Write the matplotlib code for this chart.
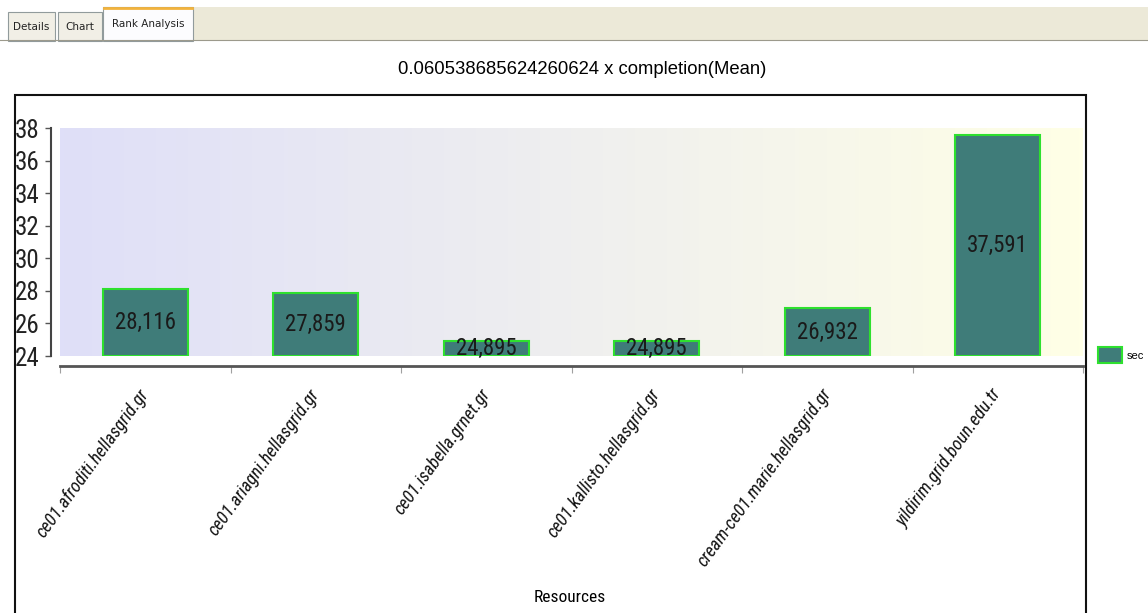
import numpy as np
import matplotlib
matplotlib.use("Agg")
import matplotlib.pyplot as plt
from matplotlib.colors import LinearSegmentedColormap
from matplotlib.patches import Rectangle
from matplotlib.lines import Line2D

# data
resources = [
    "ce01.afroditi.hellasgrid.gr",
    "ce01.ariagni.hellasgrid.gr",
    "ce01.isabella.grnet.gr",
    "ce01.kallisto.hellasgrid.gr",
    "cream-ce01.marie.hellasgrid.gr",
    "yildirim.grid.boun.edu.tr",
]
completion_sec = [28.116, 27.859, 24.895, 24.895, 26.932, 37.591]
y_ticks = [24, 26, 28, 30, 32, 34, 36, 38]
tabs = ["Details", "Chart", "Rank Analysis"]

NARROW = ["Roboto Condensed", "Liberation Sans", "DejaVu Sans"]
REGULAR = ["Liberation Sans", "DejaVu Sans"]

W, H = 1148, 613
fig = plt.figure(figsize=(W / 100, H / 100), dpi=100)
fig.patch.set_facecolor("white")


def fx(px):
    return px / W


def fy(py):
    return 1 - py / H


# tab strip at the top
fig.patches.append(Rectangle((fx(193), fy(40)), fx(W - 193), 33 / H, transform=fig.transFigure,
                             facecolor="#ECE9D8", edgecolor="none", zorder=0))
fig.add_artist(Line2D([fx(0), fx(W)], [fy(40), fy(40)], color="#9C9A8C", lw=0.8))
tab_boxes = [(8, 55, 12), (58, 102, 12), (103, 193, 7)]
for label, (x0, x1, top) in zip(tabs, tab_boxes):
    active = label == "Rank Analysis"
    fig.patches.append(Rectangle((fx(x0), fy(41)), fx(x1 - x0), (41 - top) / H, transform=fig.transFigure,
                                 facecolor="#FCFCFE" if active else "#F1EFE6", edgecolor="#919B9C", lw=0.8))
    if active:
        fig.add_artist(Line2D([fx(x0 + 1), fx(x1 - 1)], [fy(top + 1), fy(top + 1)], color="#F2B33C", lw=2))
    fig.text(fx((x0 + x1) / 2), fy((top + 41) / 2), label, ha="center", va="center",
             fontsize=7.5, family="DejaVu Sans", color="#222222")

# chart frame
fig.patches.append(Rectangle((fx(15), -0.05), fx(1086 - 15), fy(95) + 0.05, transform=fig.transFigure,
                             facecolor="none", edgecolor="#111111", lw=1.5))

fig.text(fx(582), fy(70), "0.060538685624260624 x completion(Mean)", ha="center", va="center",
         fontsize=13.3, family=REGULAR, color="#000000")

ax = fig.add_axes([fx(60), fy(356), fx(1083 - 60), (356 - 128) / H])
x = np.arange(len(resources))

# spines first: set_position resets the ticks
for side in ["top", "right"]:
    ax.spines[side].set_visible(False)
ax.spines["left"].set_position(("outward", 6.5))
ax.spines["bottom"].set_position(("outward", 7))
ax.spines["left"].set_color("#444444")
ax.spines["left"].set_linewidth(1.5)
ax.spines["bottom"].set_color("#555555")
ax.spines["bottom"].set_linewidth(2)

cmap = LinearSegmentedColormap.from_list("bg", ["#DFDFF8", "#FFFFE6"])
ax.imshow(np.linspace(0, 1, 256)[None, :], extent=(0, 1, 0, 1), transform=ax.transAxes,
          aspect="auto", cmap=cmap, zorder=0)

bars = ax.bar(x, [v - 24 for v in completion_sec], bottom=24, width=0.5,
              color="#3F7C79", edgecolor="#2EE02E", linewidth=1.5, label="sec", zorder=2)
for xi, v in zip(x, completion_sec):
    ax.text(xi, (24 + v) / 2, f"{v:.3f}".replace(".", ","), ha="center", va="center",
            fontsize=16.5, family=NARROW, color="#1A1A1A", zorder=3)

ax.set_xlim(-0.5, len(resources) - 0.5)
ax.set_ylim(24, 38)
ax.set_xticks(np.arange(-0.5, len(resources)), minor=True)
ax.tick_params(axis="x", which="major", length=0, pad=18)
ax.tick_params(axis="x", which="minor", length=5, color="#A0A0A0", width=0.8)
ax.tick_params(axis="y", length=4, color="#555555", width=1, pad=4)

ax.set_yticks(y_ticks)
ax.set_yticklabels([str(t) for t in y_ticks])
ax.set_xticks(x)
ax.set_xticklabels(resources)
plt.setp(ax.get_yticklabels(), fontsize=18, family=NARROW, color="#222222")
plt.setp(ax.get_xticklabels(), rotation=54, ha="right", va="center", rotation_mode="anchor",
         fontsize=13, family=NARROW, style="italic", color="#111111")

fig.text(fx(570), fy(598), "Resources", ha="center", va="center", fontsize=12.5,
         family=NARROW, color="#000000")

fig.legend(handles=[bars], labels=["sec"], loc="center left",
           bbox_to_anchor=(fx(1092), fy(355)), frameon=False,
           handlelength=2.2, handleheight=1.9, handletextpad=0.4, borderpad=0,
           prop={"family": REGULAR, "size": 8})

fig.savefig("out.png", dpi=100)
